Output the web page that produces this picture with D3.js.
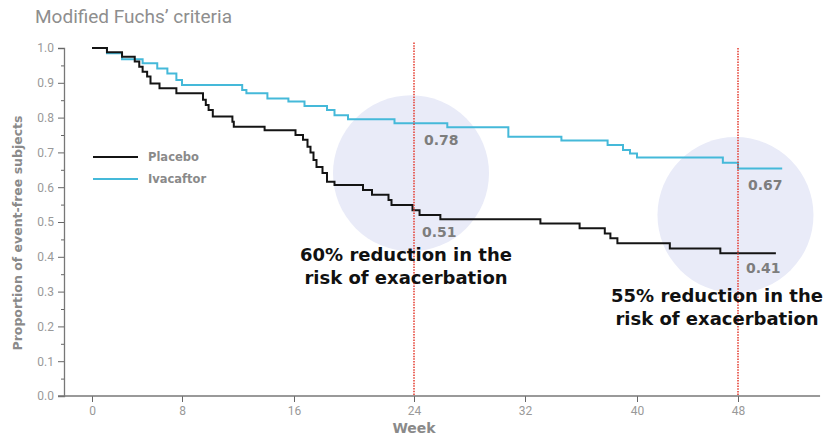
<!DOCTYPE html>
<html>
<head>
<meta charset="utf-8">
<script src="https://cdn.jsdelivr.net/npm/d3@7"></script>
<style>
  body { margin: 0; background: #fff; }
  svg { display: block; }
</style>
</head>
<body>
<script>
var width = 827,
    height = 439;

// data (weeks, proportion event-free)
var weekTicks = [0, 8, 16, 24, 32, 40, 48];
var yTicks = [0, 0.1, 0.2, 0.3, 0.4, 0.5, 0.6, 0.7, 0.8, 0.9, 1.0];

var placeboWeeks = [0, 1.33, 2.67, 3.8, 4.2, 4.5, 4.9, 5.2, 6.0, 7.5, 9.5, 9.7, 9.9, 10.2, 11.6, 11.7, 13.9,
  16.1, 16.6, 16.9, 17.1, 17.3, 17.5, 17.9, 18.2, 18.7, 20.6, 21.2, 22.3, 22.5, 23.9, 24.4, 25.9,
  33.1, 35.9, 37.7, 38.1, 38.6, 42.6, 46.6, 51.0];
var placeboSurv = [1.0, 0.988, 0.975, 0.961, 0.946, 0.932, 0.918, 0.898, 0.884, 0.870, 0.851, 0.836, 0.822, 0.803, 0.788, 0.774, 0.764,
  0.750, 0.736, 0.716, 0.700, 0.678, 0.658, 0.641, 0.616, 0.606, 0.592, 0.578, 0.563, 0.549, 0.534, 0.520, 0.508,
  0.496, 0.482, 0.467, 0.453, 0.439, 0.424, 0.410, 0.410];

var ivaWeeks = [0, 1.33, 2.67, 4.5, 5.8, 6.7, 7.5, 8.0, 12.3, 12.6, 14.1, 15.6, 16.7, 18.2, 18.7, 19.6, 22.7,
  26.4, 30.8, 34.6, 37.9, 39.0, 39.5, 40.0, 46.8, 48.0, 51.5];
var ivaSurv = [1.0, 0.985, 0.968, 0.956, 0.941, 0.927, 0.908, 0.894, 0.879, 0.870, 0.855, 0.846, 0.833, 0.822, 0.807, 0.795, 0.784,
  0.772, 0.745, 0.734, 0.721, 0.707, 0.697, 0.685, 0.670, 0.654, 0.654];

var seriesNames = ["Placebo", "Ivacaftor"];
var seriesColors = ["#141414", "#45b9d9"];

var refWeeks = [24, 48];
var refTop = [1.016, 1.0];
var atRef = [{ week: 24, iva: "0.78", pla: "0.51", ivaV: 0.784, plaV: 0.534 },
             { week: 48, iva: "0.67", pla: "0.41", ivaV: 0.654, plaV: 0.41 }];
var notes = [["60% reduction in the", "risk of exacerbation"],
             ["55% reduction in the", "risk of exacerbation"]];

var svg = d3.select("body").append("svg")
    .attr("width", width)
    .attr("height", height);

// x spacing in the original figure is not uniform, so use a piecewise scale
var x = d3.scaleLinear()
    .domain(weekTicks)
    .range([92, 182, 294, 414, 525, 637, 738]);

var y = d3.scaleLinear()
    .domain([0, 1])
    .range([396, 48]);

var axisX = 64;

// highlight circles
var circ = [{ w: 23.8, v: 0.64 }, { w: 47.8, v: 0.52 }];
svg.selectAll("circle.hl")
    .data(circ)
    .enter().append("circle")
    .attr("class", "hl")
    .attr("cx", function(d) { return x(d.w); })
    .attr("cy", function(d) { return y(d.v); })
    .attr("r", 78)
    .attr("fill", "#e9ebf8");

// title
svg.append("text")
    .attr("x", 35)
    .attr("y", 23)
    .style("font-family", "Roboto, sans-serif")
    .style("font-size", "19px")
    .style("fill", "#8e8e8e")
    .text("Modified Fuchs\u2019 criteria");

// y axis
var yAxis = svg.append("g")
    .attr("transform", "translate(" + axisX + ",0)")
    .call(d3.axisLeft(y).tickValues(yTicks).tickSize(6).tickPadding(4).tickFormat(d3.format(".1f")));
svg.append("g")
    .attr("transform", "translate(" + axisX + ",0)")
    .call(d3.axisLeft(y).tickValues(yTicks.slice(1).map(function(d) { return d - 0.05; })).tickSize(3).tickFormat(""))
    .call(function(g) { g.select(".domain").remove(); });
yAxis.select(".domain").attr("stroke", "#777").attr("stroke-width", 1.3);

// x axis
var xAxis = svg.append("g")
    .attr("transform", "translate(0," + y(0) + ")")
    .call(d3.axisBottom(x).tickValues(weekTicks).tickSize(6).tickPadding(4));
xAxis.select(".domain").remove();
svg.append("line")
    .attr("x1", axisX - 6)
    .attr("x2", x(54.5))
    .attr("y1", y(0))
    .attr("y2", y(0))
    .attr("stroke", "#777")
    .attr("stroke-width", 1.3);

svg.selectAll(".tick line").attr("stroke", "#666");
svg.selectAll(".tick text")
    .style("font-family", "Roboto, sans-serif")
    .style("font-size", "12px")
    .style("fill", "#999");

// axis titles
svg.append("text")
    .attr("transform", "translate(22," + (y(0.5) + 11) + ") rotate(-90)")
    .attr("text-anchor", "middle")
    .style("font-family", "'DejaVu Sans', sans-serif")
    .style("font-weight", "bold")
    .style("font-size", "12.5px")
    .style("fill", "#8a8a8a")
    .text("Proportion of event-free subjects");

svg.append("text")
    .attr("x", x(24))
    .attr("y", 433)
    .attr("text-anchor", "middle")
    .style("font-family", "'DejaVu Sans', sans-serif")
    .style("font-weight", "bold")
    .style("font-size", "14px")
    .style("fill", "#8a8a8a")
    .text("Week");

// curves
var line = d3.line()
    .x(function(d) { return x(d[0]); })
    .y(function(d) { return y(d[1]); })
    .curve(d3.curveStepAfter);

var series = [d3.zip(ivaWeeks, ivaSurv), d3.zip(placeboWeeks, placeboSurv)];
var serColors = [seriesColors[1], seriesColors[0]];

svg.selectAll("path.km")
    .data(series)
    .enter().append("path")
    .attr("class", "km")
    .attr("d", line)
    .attr("fill", "none")
    .attr("stroke", function(d, i) { return serColors[i]; })
    .attr("stroke-width", 2);

// reference dotted lines
svg.selectAll("line.ref")
    .data(refWeeks)
    .enter().append("line")
    .attr("class", "ref")
    .attr("x1", function(d) { return x(d); })
    .attr("x2", function(d) { return x(d); })
    .attr("y1", function(d, i) { return y(refTop[i]); })
    .attr("y2", y(0))
    .attr("stroke", "#e4392c")
    .attr("stroke-width", 1.5)
    .attr("stroke-dasharray", "1.5,1.2");

// value labels
var valStyle = function(sel) {
  sel.style("font-family", "'DejaVu Sans', sans-serif")
     .style("font-weight", "bold")
     .style("font-size", "14px")
     .style("fill", "#7d7d7d");
};
svg.selectAll("text.iva")
    .data(atRef)
    .enter().append("text")
    .attr("class", "iva")
    .attr("x", function(d) { return x(d.week) + 10; })
    .attr("y", function(d) { return y(d.ivaV) + 22; })
    .call(valStyle)
    .text(function(d) { return d.iva; });
svg.selectAll("text.pla")
    .data(atRef)
    .enter().append("text")
    .attr("class", "pla")
    .attr("x", function(d) { return x(d.week) + 8; })
    .attr("y", function(d, i) { return y(d.plaV) + (i === 0 ? 27 : 20); })
    .call(valStyle)
    .text(function(d) { return d.pla; });

// annotations
var noteX = [x(24) - 8, x(48) - 21];
var noteY = [261, 302];
notes.forEach(function(lines, i) {
  var t = svg.append("text")
      .attr("text-anchor", "middle")
      .style("font-family", "'DejaVu Sans', sans-serif")
      .style("font-weight", "bold")
      .style("font-size", "18px")
      .style("fill", "#111");
  lines.forEach(function(s, j) {
    t.append("tspan")
        .attr("x", noteX[i])
        .attr("y", noteY[i] + j * 23)
        .text(s);
  });
});

// legend
var legend = svg.selectAll("g.legend")
    .data(seriesNames)
    .enter().append("g")
    .attr("class", "legend")
    .attr("transform", function(d, i) { return "translate(93," + (157 + i * 22) + ")"; });
legend.append("line")
    .attr("x1", 0)
    .attr("x2", 45)
    .attr("stroke", function(d, i) { return seriesColors[i]; })
    .attr("stroke-width", 2);
legend.append("text")
    .attr("x", 55)
    .attr("dy", "0.35em")
    .style("font-family", "'DejaVu Sans', sans-serif")
    .style("font-weight", "bold")
    .style("font-size", "11.5px")
    .style("fill", "#8a8a8a")
    .text(function(d) { return d; });
</script>
</body>
</html>
